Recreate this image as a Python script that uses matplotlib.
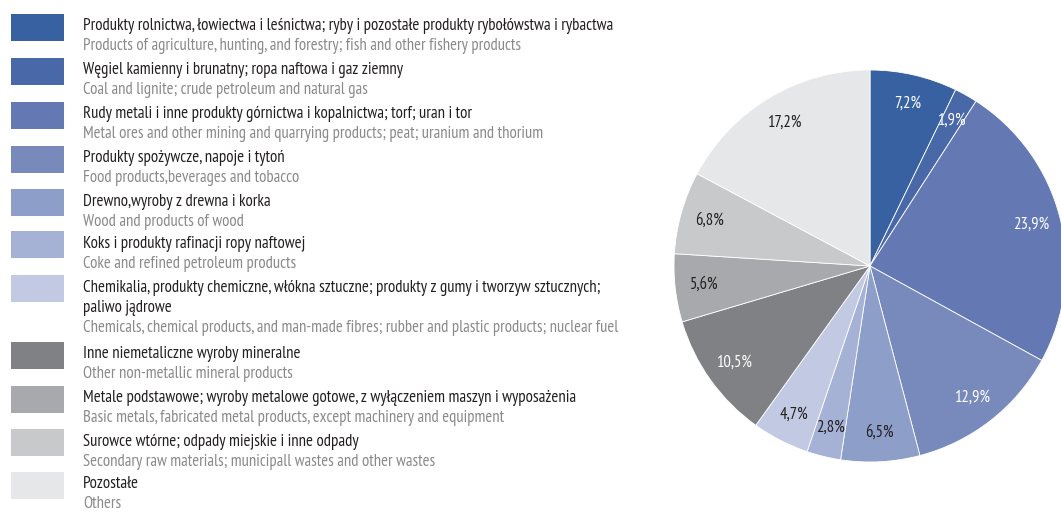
import matplotlib
matplotlib.use("Agg")
import matplotlib.pyplot as plt
from matplotlib.patches import Rectangle
from matplotlib import font_manager

W, H = 1061, 512

labels_pl = [
    "Produkty rolnictwa, łowiectwa i leśnictwa; ryby i pozostałe produkty rybołówstwa i rybactwa",
    "Węgiel kamienny i brunatny; ropa naftowa i gaz ziemny",
    "Rudy metali i inne produkty górnictwa i kopalnictwa; torf; uran i tor",
    "Produkty spożywcze, napoje i tytoń",
    "Drewno,wyroby z drewna i korka",
    "Koks i produkty rafinacji ropy naftowej",
    "Chemikalia, produkty chemiczne, włókna sztuczne; produkty z gumy i tworzyw sztucznych;\npaliwo jądrowe",
    "Inne niemetaliczne wyroby mineralne",
    "Metale podstawowe; wyroby metalowe gotowe, z wyłączeniem maszyn i wyposażenia",
    "Surowce wtórne; odpady miejskie i inne odpady",
    "Pozostałe",
]
labels_en = [
    "Products of agriculture, hunting, and forestry; fish and other fishery products",
    "Coal and lignite; crude petroleum and natural gas",
    "Metal ores and other mining and quarrying products; peat; uranium and thorium",
    "Food products,beverages and tobacco",
    "Wood and products of wood",
    "Coke and refined petroleum products",
    "Chemicals, chemical products, and man-made fibres; rubber and plastic products; nuclear fuel",
    "Other non-metallic mineral products",
    "Basic metals, fabricated metal products, except machinery and equipment",
    "Secondary raw materials; municipall wastes and other wastes",
    "Others",
]
values = [7.2, 1.9, 23.9, 12.9, 6.5, 2.8, 4.7, 10.5, 5.6, 6.8, 17.2]
colors = ["#3761a1", "#4868a8", "#6479b3", "#788abc", "#8d9ec9", "#a5b1d5",
          "#c2c9e3", "#808185", "#a8a9ac", "#c8c9cb", "#e6e7e8"]
label_colors = ["white", "white", "white", "white", "#231f20", "#231f20",
                "#231f20", "white", "#231f20", "#231f20", "#231f20"]

avail = {f.name for f in font_manager.fontManager.ttflist}
fam = "PT Sans Narrow"
if fam not in avail:
    fam = "Roboto Condensed" if "Roboto Condensed" in avail else "DejaVu Sans"
plt.rcParams["font.family"] = [fam, "DejaVu Sans"]

fig = plt.figure(figsize=(W / 100, H / 100), dpi=100)
renderer = fig.canvas.get_renderer()


def fit_size(text, target_px, base=12.0):
    t = fig.text(0, 0, text, fontsize=base)
    w = t.get_window_extent(renderer=renderer).width
    t.remove()
    return base * target_px / w


fs_pl = fit_size(labels_pl[0], 529)
fs_en = fit_size(labels_en[0], 437)
fs_pct = fit_size("23,9%", 36)

# Pie
cx, cy, r = 870, 266, 196
ax = fig.add_axes([(cx - r) / W, (H - cy - r) / H, 2 * r / W, 2 * r / H])
wedges, texts, autotexts = ax.pie(
    values, colors=colors, startangle=90, counterclock=False, radius=1,
    autopct=lambda p: f"{p:.1f}".replace(".", ",") + "%", pctdistance=0.85,
    wedgeprops=dict(edgecolor="white", linewidth=0.6),
    textprops=dict(fontsize=fs_pct),
)
for t, c in zip(autotexts, label_colors):
    t.set_color(c)
ax.set_xlim(-1, 1)
ax.set_ylim(-1, 1)
ax.set_aspect("equal")
ax.axis("off")

# Legend (layout in pixel coordinates)
lax = fig.add_axes([0, 0, 1, 1])
lax.set_xlim(0, W)
lax.set_ylim(H, 0)
lax.axis("off")
patch_tops = [14, 58, 102, 146, 189, 231, 275, 342, 386, 429, 472]
ph = 27
for top, col, pl, en in zip(patch_tops, colors, labels_pl, labels_en):
    lax.add_patch(Rectangle((11, top), 53, ph, facecolor=col, edgecolor="none"))
    yc = top + ph / 2 - 1
    lines = pl.split("\n")
    for i, ln in enumerate(lines):
        lax.text(83, yc + i * 20, ln, fontsize=fs_pl, color="#231f20", va="center", ha="left")
    lax.text(83, yc + (len(lines) - 1) * 20 + 20, en, fontsize=fs_en, color="#8a8a8c",
             va="center", ha="left")

fig.savefig("out.png", dpi=100)
